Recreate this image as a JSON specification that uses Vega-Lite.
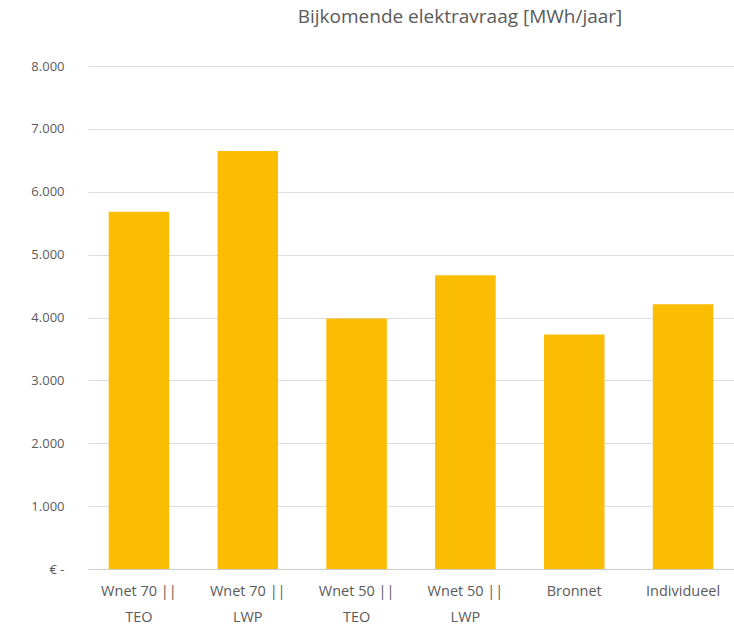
{
  "$schema": "https://vega.github.io/schema/vega-lite/v6.json",
  "autosize": "none",
  "width": 646,
  "height": 503,
  "padding": {"left": 88, "top": 66, "right": 0, "bottom": 56},
  "background": "white",
  "config": {"view": {"stroke": null}, "font": "Open Sans"},
  "title": {
    "text": "Bijkomende elektravraag [MWh/jaar]",
    "anchor": "middle",
    "frame": "group",
    "dx": 49,
    "offset": 33,
    "fontSize": 19,
    "fontWeight": "normal",
    "color": "#5a5a5a",
    "font": "Open Sans"
  },
  "data": {
    "values": [
      {"categorie": "Wnet 70 ||\nTEO", "vraag": 5680},
      {"categorie": "Wnet 70 ||\nLWP", "vraag": 6650},
      {"categorie": "Wnet 50 ||\nTEO", "vraag": 3985},
      {"categorie": "Wnet 50 ||\nLWP", "vraag": 4670},
      {"categorie": "Bronnet", "vraag": 3730},
      {"categorie": "Individueel", "vraag": 4210}
    ]
  },
  "mark": {"type": "bar", "color": "#FBBC04"},
  "encoding": {
    "x": {
      "field": "categorie",
      "type": "nominal",
      "sort": null,
      "scale": {"paddingInner": 0.444, "paddingOuter": 0.19},
      "axis": {
        "title": null,
        "labelAngle": 0,
        "labelExpr": "split(datum.label, '\\n')",
        "labelFontSize": 14.5,
        "labelColor": "#5a5a5a",
        "labelLineHeight": 26,
        "labelPadding": 15,
        "ticks": false,
        "domainColor": "#cccccc",
        "labelFont": "Open Sans"
      }
    },
    "y": {
      "field": "vraag",
      "type": "quantitative",
      "scale": {"domain": [0, 8000]},
      "axis": {
        "title": null,
        "values": [0, 1000, 2000, 3000, 4000, 5000, 6000, 7000, 8000],
        "labelExpr": "datum.value == 0 ? '€ -' : replace(format(datum.value, ','), ',', '.')",
        "labelFontSize": 13,
        "labelColor": "#5a5a5a",
        "labelPadding": 24,
        "ticks": false,
        "domain": false,
        "gridColor": "#dddddd",
        "labelFont": "Open Sans"
      }
    }
  }
}
